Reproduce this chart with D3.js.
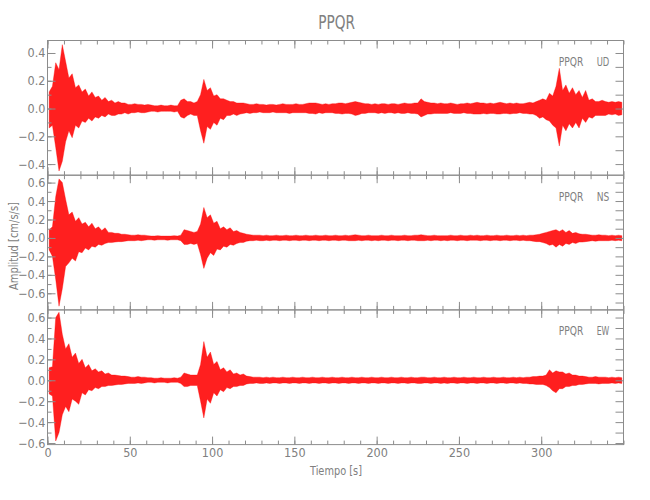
<!DOCTYPE html>
<html><head><meta charset="utf-8">
<script src="https://cdn.jsdelivr.net/npm/d3@7"></script>
<style>body{margin:0;background:#fff} svg{display:block}</style>
</head><body><svg id="chart" width="650" height="500"></svg>
<script>
// ---------------- data ----------------
const stationName = "PPQR";
const components = ["UD", "NS", "EW"];
const xLabel = "Tiempo  [s]";
const yLabel = "Amplitud  [cm/s/s]";
const binSeconds = 2;            // each value = peak of the trace over a 2 s window
const xDomain = [0, 350];
const xMajorTicks = [0, 50, 100, 150, 200, 250, 300];

// Upper / lower envelope of each trace (cm/s/s), one value per 2 s window, 0..350 s
const udMax = [
 0.12,0.16,0.33,0.28,0.46,0.34,0.22,0.25,0.15,0.17,
 0.12,0.14,0.09,0.12,0.08,0.09,0.06,0.08,0.05,0.06,
 0.04,0.05,0.04,0.04,0.03,0.03,0.035,0.03,0.03,0.025,
 0.03,0.025,0.02,0.02,0.025,0.02,0.02,0.025,0.02,0.02,
 0.06,0.07,0.05,0.05,0.04,0.05,0.10,0.21,0.13,0.15,
 0.09,0.10,0.07,0.07,0.06,0.05,0.05,0.04,0.04,0.04,
 0.035,0.03,0.03,0.035,0.03,0.03,0.025,0.03,0.03,0.025,
 0.03,0.035,0.03,0.03,0.03,0.035,0.03,0.03,0.035,0.04,
 0.04,0.04,0.035,0.03,0.035,0.03,0.035,0.035,0.04,0.04,
 0.035,0.04,0.045,0.05,0.045,0.04,0.035,0.035,0.03,0.035,
 0.03,0.035,0.035,0.03,0.035,0.035,0.03,0.035,0.04,0.035,
 0.035,0.04,0.04,0.07,0.05,0.045,0.04,0.04,0.035,0.04,
 0.035,0.035,0.04,0.035,0.03,0.035,0.035,0.04,0.035,0.04,
 0.045,0.04,0.04,0.035,0.04,0.035,0.04,0.045,0.04,0.035,
 0.04,0.035,0.04,0.035,0.035,0.04,0.045,0.04,0.05,0.06,
 0.07,0.06,0.11,0.09,0.16,0.29,0.13,0.17,0.11,0.15,
 0.10,0.13,0.08,0.13,0.06,0.07,0.05,0.05,0.06,0.05,
 0.045,0.05,0.045,0.05,0.045];
const udMin = [
 -0.14,-0.12,-0.28,-0.45,-0.38,-0.24,-0.16,-0.21,-0.12,-0.14,
 -0.09,-0.10,-0.07,-0.09,-0.06,-0.07,-0.05,-0.06,-0.04,-0.05,
 -0.05,-0.04,-0.04,-0.03,-0.04,-0.03,-0.03,-0.025,-0.03,-0.03,
 -0.025,-0.02,-0.02,-0.025,-0.02,-0.02,-0.02,-0.02,-0.025,-0.02,
 -0.06,-0.07,-0.05,-0.04,-0.05,-0.05,-0.16,-0.25,-0.13,-0.15,
 -0.10,-0.12,-0.07,-0.08,-0.05,-0.05,-0.04,-0.05,-0.04,-0.035,
 -0.03,-0.035,-0.03,-0.03,-0.025,-0.03,-0.03,-0.03,-0.025,-0.03,
 -0.03,-0.03,-0.03,-0.035,-0.03,-0.03,-0.03,-0.03,-0.03,-0.035,
 -0.035,-0.04,-0.03,-0.035,-0.03,-0.03,-0.03,-0.035,-0.035,-0.04,
 -0.035,-0.035,-0.04,-0.05,-0.045,-0.035,-0.035,-0.03,-0.03,-0.03,
 -0.035,-0.03,-0.035,-0.03,-0.03,-0.035,-0.03,-0.035,-0.035,-0.03,
 -0.035,-0.035,-0.04,-0.06,-0.05,-0.04,-0.04,-0.035,-0.035,-0.035,
 -0.035,-0.035,-0.03,-0.035,-0.035,-0.035,-0.03,-0.035,-0.035,-0.04,
 -0.04,-0.04,-0.035,-0.04,-0.035,-0.035,-0.04,-0.04,-0.035,-0.035,
 -0.04,-0.035,-0.035,-0.03,-0.035,-0.035,-0.04,-0.04,-0.05,-0.07,
 -0.06,-0.08,-0.09,-0.12,-0.14,-0.27,-0.12,-0.16,-0.11,-0.14,
 -0.10,-0.14,-0.07,-0.10,-0.06,-0.07,-0.05,-0.05,-0.05,-0.05,
 -0.04,-0.045,-0.04,-0.05,-0.045];
const nsMax = [
 0.09,0.12,0.45,0.64,0.60,0.42,0.25,0.28,0.18,0.22,
 0.15,0.17,0.12,0.16,0.10,0.12,0.08,0.11,0.06,0.06,
 0.05,0.05,0.04,0.04,0.035,0.03,0.03,0.035,0.03,0.03,
 0.025,0.02,0.02,0.025,0.02,0.02,0.02,0.02,0.025,0.02,
 0.03,0.09,0.08,0.07,0.06,0.07,0.15,0.33,0.22,0.25,
 0.16,0.18,0.10,0.12,0.09,0.11,0.07,0.08,0.06,0.05,
 0.04,0.035,0.03,0.03,0.03,0.025,0.03,0.025,0.025,0.03,
 0.025,0.025,0.03,0.025,0.025,0.03,0.025,0.025,0.03,0.025,
 0.025,0.03,0.025,0.025,0.03,0.025,0.025,0.03,0.025,0.025,
 0.03,0.025,0.03,0.035,0.03,0.025,0.025,0.03,0.025,0.025,
 0.025,0.03,0.025,0.025,0.03,0.025,0.025,0.025,0.03,0.025,
 0.025,0.03,0.03,0.035,0.03,0.025,0.025,0.03,0.025,0.025,
 0.025,0.025,0.03,0.025,0.025,0.03,0.025,0.025,0.03,0.025,
 0.03,0.025,0.025,0.03,0.025,0.025,0.03,0.025,0.025,0.03,
 0.025,0.025,0.03,0.025,0.03,0.025,0.03,0.03,0.035,0.04,
 0.05,0.06,0.07,0.08,0.09,0.07,0.09,0.06,0.08,0.05,
 0.06,0.045,0.04,0.04,0.035,0.03,0.03,0.035,0.03,0.03,
 0.025,0.03,0.025,0.03,0.025];
const nsMin = [
 -0.13,-0.20,-0.45,-0.74,-0.55,-0.31,-0.27,-0.22,-0.25,-0.15,
 -0.16,-0.11,-0.13,-0.09,-0.10,-0.07,-0.08,-0.06,-0.05,-0.05,
 -0.045,-0.04,-0.04,-0.035,-0.03,-0.03,-0.03,-0.025,-0.03,-0.025,
 -0.02,-0.02,-0.025,-0.02,-0.02,-0.02,-0.025,-0.02,-0.02,-0.02,
 -0.03,-0.07,-0.07,-0.06,-0.07,-0.06,-0.18,-0.33,-0.22,-0.16,
 -0.19,-0.12,-0.13,-0.09,-0.10,-0.07,-0.08,-0.06,-0.05,-0.05,
 -0.035,-0.03,-0.03,-0.025,-0.03,-0.03,-0.025,-0.03,-0.025,-0.025,
 -0.03,-0.025,-0.025,-0.03,-0.025,-0.025,-0.03,-0.025,-0.025,-0.03,
 -0.025,-0.025,-0.03,-0.025,-0.025,-0.03,-0.025,-0.025,-0.03,-0.025,
 -0.025,-0.03,-0.03,-0.03,-0.025,-0.03,-0.025,-0.025,-0.03,-0.025,
 -0.03,-0.025,-0.025,-0.03,-0.025,-0.025,-0.03,-0.025,-0.025,-0.03,
 -0.025,-0.025,-0.03,-0.03,-0.03,-0.025,-0.03,-0.025,-0.025,-0.03,
 -0.025,-0.03,-0.025,-0.025,-0.03,-0.025,-0.025,-0.03,-0.025,-0.025,
 -0.025,-0.03,-0.025,-0.025,-0.03,-0.025,-0.025,-0.03,-0.025,-0.025,
 -0.03,-0.025,-0.025,-0.03,-0.025,-0.03,-0.03,-0.035,-0.04,-0.04,
 -0.05,-0.06,-0.08,-0.07,-0.10,-0.07,-0.09,-0.06,-0.07,-0.05,
 -0.06,-0.045,-0.045,-0.04,-0.035,-0.03,-0.035,-0.03,-0.03,-0.03,
 -0.03,-0.025,-0.03,-0.025,-0.03];
const ewMax = [
 0.12,0.13,0.60,0.65,0.44,0.30,0.35,0.22,0.26,0.16,
 0.20,0.12,0.15,0.09,0.11,0.08,0.09,0.06,0.07,0.05,
 0.05,0.045,0.04,0.04,0.035,0.03,0.03,0.035,0.03,0.03,
 0.025,0.025,0.02,0.02,0.025,0.02,0.02,0.02,0.025,0.02,
 0.03,0.07,0.06,0.05,0.05,0.05,0.15,0.37,0.22,0.27,
 0.15,0.18,0.10,0.12,0.08,0.10,0.06,0.07,0.05,0.06,
 0.04,0.035,0.03,0.03,0.03,0.025,0.03,0.025,0.03,0.025,
 0.025,0.03,0.025,0.025,0.03,0.025,0.025,0.03,0.025,0.025,
 0.03,0.025,0.025,0.03,0.025,0.025,0.03,0.025,0.025,0.03,
 0.025,0.025,0.03,0.025,0.025,0.03,0.025,0.025,0.03,0.025,
 0.025,0.03,0.025,0.025,0.03,0.025,0.025,0.03,0.025,0.025,
 0.03,0.025,0.025,0.03,0.03,0.025,0.025,0.03,0.025,0.025,
 0.03,0.025,0.025,0.03,0.025,0.025,0.03,0.025,0.025,0.03,
 0.025,0.025,0.03,0.025,0.025,0.03,0.025,0.025,0.03,0.025,
 0.025,0.03,0.025,0.03,0.025,0.03,0.03,0.035,0.035,0.04,
 0.04,0.05,0.10,0.07,0.09,0.08,0.08,0.06,0.07,0.05,
 0.05,0.04,0.04,0.035,0.03,0.03,0.035,0.03,0.03,0.03,
 0.025,0.03,0.025,0.03,0.025];
const ewMin = [
 -0.13,-0.15,-0.58,-0.50,-0.33,-0.25,-0.30,-0.18,-0.20,-0.23,
 -0.12,-0.14,-0.09,-0.10,-0.07,-0.08,-0.06,-0.06,-0.05,-0.05,
 -0.045,-0.04,-0.04,-0.035,-0.03,-0.03,-0.03,-0.025,-0.03,-0.025,
 -0.02,-0.02,-0.025,-0.02,-0.02,-0.02,-0.025,-0.02,-0.02,-0.02,
 -0.03,-0.06,-0.06,-0.05,-0.05,-0.05,-0.20,-0.36,-0.18,-0.22,
 -0.12,-0.15,-0.09,-0.11,-0.07,-0.08,-0.06,-0.06,-0.05,-0.05,
 -0.035,-0.03,-0.03,-0.025,-0.03,-0.03,-0.025,-0.03,-0.025,-0.025,
 -0.03,-0.025,-0.025,-0.03,-0.025,-0.025,-0.03,-0.025,-0.025,-0.03,
 -0.025,-0.025,-0.03,-0.025,-0.025,-0.03,-0.025,-0.025,-0.03,-0.025,
 -0.025,-0.03,-0.025,-0.025,-0.03,-0.025,-0.025,-0.03,-0.025,-0.025,
 -0.03,-0.025,-0.025,-0.03,-0.025,-0.025,-0.03,-0.025,-0.025,-0.03,
 -0.025,-0.025,-0.03,-0.03,-0.025,-0.025,-0.03,-0.025,-0.025,-0.03,
 -0.025,-0.03,-0.025,-0.025,-0.03,-0.025,-0.025,-0.03,-0.025,-0.025,
 -0.03,-0.025,-0.025,-0.03,-0.025,-0.025,-0.03,-0.025,-0.025,-0.03,
 -0.025,-0.025,-0.03,-0.025,-0.03,-0.03,-0.035,-0.035,-0.04,-0.04,
 -0.04,-0.05,-0.07,-0.10,-0.12,-0.08,-0.08,-0.06,-0.06,-0.05,
 -0.05,-0.04,-0.04,-0.035,-0.03,-0.03,-0.03,-0.035,-0.03,-0.03,
 -0.03,-0.025,-0.03,-0.025,-0.03];

const yDomains = [[-0.48, 0.49], [-0.78, 0.68], [-0.615, 0.673]];
const yMajorTicks = [
  [-0.4, -0.2, 0.0, 0.2, 0.4],
  [-0.6, -0.4, -0.2, 0.0, 0.2, 0.4, 0.6],
  [-0.6, -0.4, -0.2, 0.0, 0.2, 0.4, 0.6]];

// ---------------- layout ----------------
const plotLeft = 47.5, plotRight = 623.5, plotTop = 40.5, panelH = 134.7;
const gray = "#8c8c8c", textGray = "#808080", traceColor = "#ff0000";
const font = "'Liberation Sans Narrow','DejaVu Sans Condensed','Liberation Sans',sans-serif";

const svg = d3.select("#chart");
const x = d3.scaleLinear().domain(xDomain).range([plotLeft, plotRight]);
const xMinor = d3.range(0, 351, 10);

const traces = [[udMax, udMin], [nsMax, nsMin], [ewMax, ewMin]];

traces.forEach(([hi, lo], p) => {
  const y0 = plotTop + p * panelH, y1 = y0 + panelH;
  const y = d3.scaleLinear().domain(yDomains[p]).range([y1, y0]);
  const g = svg.append("g");

  const bins = hi.map((v, i) => ({ t: i * binSeconds, hi: v, lo: lo[i] }));

  // trace drawn as its min/max envelope band
  g.append("path").datum(bins)
    .attr("fill", traceColor).attr("fill-opacity", 0.88)
    .attr("stroke", traceColor).attr("stroke-opacity", 0.45).attr("stroke-width", 0.8)
    .attr("d", d3.area().x(d => x(d.t + binSeconds / 2)).y0(d => y(d.lo)).y1(d => y(d.hi)));

  const fmt = d3.format(".1f");
  const yMinorVals = d3.range(-8, 9).map(v => v / 10).filter(v => v >= yDomains[p][0] && v <= yDomains[p][1]);
  const styleAxis = sel => {
    sel.select(".domain").remove();
    sel.selectAll("line").attr("stroke", gray);
    sel.selectAll("text").attr("fill", textGray).style("font-family", font).style("font-size", "12.5px");
  };
  g.append("g").attr("transform", `translate(${plotLeft},0)`)
    .call(d3.axisLeft(y).tickValues(yMajorTicks[p]).tickFormat(fmt).tickSize(-8).tickPadding(2)).call(styleAxis);
  g.append("g").attr("transform", `translate(${plotLeft},0)`)
    .call(d3.axisLeft(y).tickValues(yMinorVals).tickFormat("").tickSize(-4)).call(styleAxis);
  g.append("g").attr("transform", `translate(${plotRight},0)`)
    .call(d3.axisRight(y).tickValues(yMinorVals).tickFormat("").tickSize(-8)).call(styleAxis);
  g.append("g").attr("transform", `translate(0,${y0})`)
    .call(d3.axisTop(x).tickValues(xMajorTicks).tickFormat("").tickSize(-8)).call(styleAxis);
  g.append("g").attr("transform", `translate(0,${y0})`)
    .call(d3.axisTop(x).tickValues(xMinor).tickFormat("").tickSize(-4)).call(styleAxis);
  const bottomAxis = d3.axisBottom(x).tickValues(xMajorTicks).tickSize(-8).tickPadding(4)
    .tickFormat(p === 2 ? d3.format("d") : "");
  g.append("g").attr("transform", `translate(0,${y1})`).call(bottomAxis).call(styleAxis);
  g.append("g").attr("transform", `translate(0,${y1})`)
    .call(d3.axisBottom(x).tickValues(xMinor).tickFormat("").tickSize(-4)).call(styleAxis);

  g.append("rect").attr("x", plotLeft).attr("y", y0).attr("width", plotRight - plotLeft).attr("height", panelH)
    .attr("fill", "none").attr("stroke", gray).attr("stroke-width", 1);

  g.append("text").attr("x", 558.7).attr("y", y0 + 25.5).text(stationName)
    .attr("textLength", 24.6).attr("lengthAdjust", "spacingAndGlyphs")
    .attr("fill", textGray).style("font-family", font).style("font-size", "13px");
  g.append("text").attr("x", 596.7).attr("y", y0 + 25.5).text(components[p])
    .attr("textLength", 12.6).attr("lengthAdjust", "spacingAndGlyphs")
    .attr("fill", textGray).style("font-family", font).style("font-size", "13px");
});

svg.append("text").attr("x", 318.3).attr("y", 29.3).text(stationName)
  .attr("textLength", 36.7).attr("lengthAdjust", "spacingAndGlyphs")
  .attr("fill", textGray).style("font-family", font).style("font-size", "19.5px");
svg.append("text").attr("x", 336).attr("y", 474.5).attr("text-anchor", "middle").text(xLabel)
  .attr("textLength", 52).attr("lengthAdjust", "spacingAndGlyphs")
  .attr("fill", textGray).style("font-family", font).style("font-size", "13px");
svg.append("text").attr("transform", "translate(18,246) rotate(-90)").attr("text-anchor", "middle").text(yLabel)
  .attr("textLength", 88).attr("lengthAdjust", "spacingAndGlyphs")
  .attr("fill", textGray).style("font-family", font).style("font-size", "13px");
</script></body></html>
